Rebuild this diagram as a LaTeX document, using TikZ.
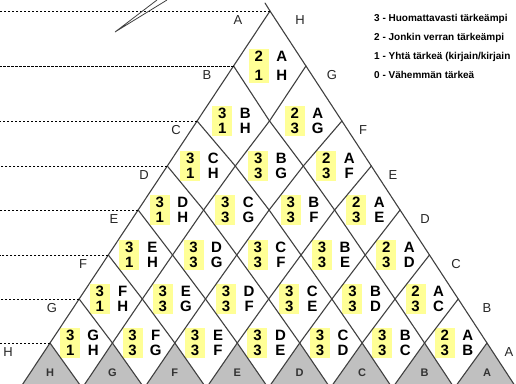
\documentclass[tikz,border=0pt]{standalone}
\usepackage{fontspec}
\setmainfont{Liberation Sans}
\usetikzlibrary{calc}

\definecolor{boxyellow}{RGB}{255,255,150}
\definecolor{lineg}{RGB}{64,64,64}
\definecolor{cellgrey}{RGB}{192,192,192}

% letter for an index 0..7
\newcommand{\ltr}[1]{\ifcase#1 A\or B\or C\or D\or E\or F\or G\or H\fi}
% heights of the rows (px)
\def\ylev{{11,66,121,166,210,255,299,343,388}}

\begin{document}
\begin{tikzpicture}[x=1pt, y=-1pt,
    edge/.style={draw=lineg, line width=1.1pt, line cap=round},
    guide/.style={black, line width=0.8pt, dash pattern=on 2.4pt off 1.6pt},
    numbox/.style={fill=boxyellow, minimum width=20pt, inner xsep=0pt, inner ysep=2pt, align=center},
    pairtext/.style={inner sep=0pt, align=center},
    sidelabel/.style={inner sep=0pt, text=black!85, font=\fontsize{13}{15}\selectfont},
    baselabel/.style={inner sep=0pt, text=black!80, font=\bfseries\fontsize{11}{13}\selectfont},
    legend/.style={anchor=west, inner sep=0pt, font=\bfseries\fontsize{10}{12}\selectfont}]

    \useasboundingbox (0,0) rectangle (516,383);
    \clip (0,0) rectangle (516,383);

    % --- Lattice points: \ii steps down the left side, \jj down the right side ---
    \foreach \ii in {0,...,8} {
        \foreach \jj in {0,...,8} {
            \pgfmathtruncatemacro{\rr}{\ii+\jj}
            \ifnum\rr<9
                \pgfmathsetmacro{\yy}{\ylev[\rr]}
                \pgfmathsetmacro{\xx}{270-0.6627*(\yy-11)+1.3163*(\yy-11)*\jj/max(\rr,1)}
                \coordinate (v\ii-\jj) at (\xx,\yy);
            \fi
        }
    }
    \coordinate (top) at (265,3);
    \coordinate (margin) at (0,0);

    % --- Grey half cells at the bottom ---
    \foreach \ii/\L in {0/A,1/B,2/C,3/D,4/E,5/F,6/G,7/H} {
        \pgfmathtruncatemacro{\jj}{7-\ii}
        \pgfmathtruncatemacro{\ni}{\ii+1}
        \pgfmathtruncatemacro{\nj}{\jj+1}
        \fill[cellgrey] (v\ii-\jj) -- (v\ni-\jj) -- (v\ii-\nj) -- cycle;
        \node[baselabel] (b\ii) at ([yshift=-30pt]v\ii-\jj) {\L};
    }

    % --- Pair scores in the cells ---
    \foreach \ii in {0,...,6} {
        \pgfmathtruncatemacro{\last}{6-\ii}
        \foreach \jj in {0,...,\last} {
            \pgfmathtruncatemacro{\ni}{\ii+1}
            \pgfmathtruncatemacro{\nj}{\jj+1}
            \pgfmathtruncatemacro{\rj}{7-\jj}
            \pgfmathtruncatemacro{\gap}{(\ii+\jj==0) ? 19 : 15}
            \coordinate (c\ii-\jj) at ($(v\ni-\jj)!0.5!(v\ii-\nj)$);
            \node[numbox, font=\bfseries\fontsize{15}{\gap}\selectfont] (n\ii-\jj)
                at ([xshift=-11pt]c\ii-\jj) {\ifnum\ii=0 2\else 3\fi\\\ifnum\jj=0 1\else 3\fi};
            \node[pairtext, font=\bfseries\fontsize{15}{\gap}\selectfont] (p\ii-\jj)
                at ([xshift=12pt]c\ii-\jj) {\ltr{\ii}\\\ltr{\rj}};
        }
    }

    % --- Grid lines ---
    \draw[edge] (top) -- (v0-0);
    \foreach \ii in {0,...,7} {
        \pgfmathtruncatemacro{\last}{8-\ii}
        \foreach \jj in {1,...,\last} {
            \pgfmathtruncatemacro{\prev}{\jj-1}
            \draw[edge] (v\ii-\prev) -- (v\ii-\jj);
            \draw[edge] (v\prev-\ii) -- (v\jj-\ii);
        }
    }

    % --- Dashed guides to the left margin ---
    \foreach \rr in {0,...,7} {
        \draw[guide] (v\rr-0) -- (v\rr-0 -| margin);
    }

    % --- Stray stroke at the top ---
    \draw[lineg, line width=0.8pt] (157,0) -- (115,32) -- (167,0);

    % --- Side letters ---
    \foreach \rr/\L/\xx in {0/A/238,1/B/207,2/C/176,3/D/144,4/E/114,5/F/83,6/G/52,7/H/8} {
        \pgfmathsetmacro{\yy}{\ylev[\rr]+9}
        \node[sidelabel] (l\rr) at (\xx,\yy) {\L};
    }
    \foreach \rr/\L/\xx in {0/H/300,1/G/332,2/F/363,3/E/393,4/D/425,5/C/456,6/B/487,7/A/509} {
        \pgfmathsetmacro{\yy}{\ylev[\rr]+9}
        \node[sidelabel] (r\rr) at (\xx,\yy) {\L};
    }

    % --- Legend ---
    \node[legend] (leg3) at (374,19) {3 - Huomattavasti tärkeämpi};
    \node[legend] (leg2) at (374,38) {2 - Jonkin verran tärkeämpi};
    \node[legend] (leg1) at (374,57) {1 - Yhtä tärkeä (kirjain/kirjain};
    \node[legend] (leg0) at (374,75) {0 - Vähemmän tärkeä};

\end{tikzpicture}
\end{document}
